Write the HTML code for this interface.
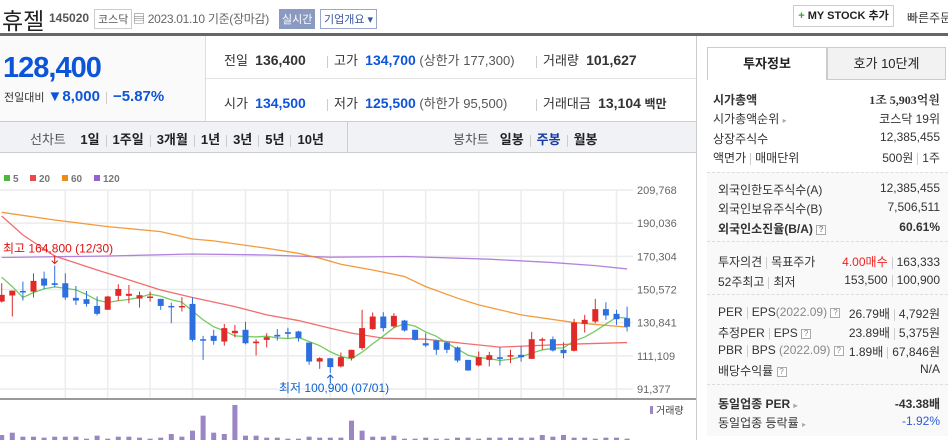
<!DOCTYPE html>
<html><head><meta charset="utf-8">
<style>
*{margin:0;padding:0;box-sizing:border-box}
body{width:948px;height:440px;overflow:hidden;background:#fff;font-family:"Liberation Sans","Noto Sans CJK KR",sans-serif;color:#333;position:relative}
.abs{position:absolute;white-space:nowrap}
.b{font-weight:bold}
.blue{color:#0d55d8}
.sep{display:inline-block;width:1px;height:12px;background:#ccc;vertical-align:middle;margin:0 6px}
.rp{font-size:12px;color:#333}
.rp .r{position:absolute;right:8px;white-space:nowrap}
.q{display:inline-block;width:10px;height:10px;border:1px solid #aaa;font-size:8px;line-height:8px;text-align:center;color:#888;vertical-align:middle;background:#fff}
</style></head><body>
<div class="abs" style="left:2px;top:2px;font-size:23px;color:#222">휴젤</div>
<div class="abs b" style="left:49px;top:11px;font-size:12px;color:#555">145020</div>
<div class="abs" style="left:94px;top:9px;font-size:11px;border:1px solid #ccc;padding:1px 3px;color:#555">코스닥</div>
<div class="abs" style="left:133px;top:10px;font-size:12px;color:#666;letter-spacing:-0.3px">▤ 2023.01.10 기준(장마감)</div>
<div class="abs" style="left:279px;top:9px;font-size:11px;background:#8a9ac0;color:#fff;padding:2px 3px">실시간</div>
<div class="abs" style="left:320px;top:9px;font-size:11px;border:1px solid #99a6c8;color:#3b55a0;padding:1px 3px">기업개요 ▾</div>
<div class="abs b" style="left:793px;top:5px;width:101px;height:22px;border:1px solid #ccc;font-size:11px;line-height:20px;text-align:center;color:#222"><span style="color:#3a3">+</span> MY STOCK 추가</div>
<div class="abs" style="left:907px;top:9px;font-size:12px;color:#333">빠른주문</div>
<div class="abs" style="left:0;top:33px;width:948px;height:3px;background:#666"></div>

<div class="abs" style="left:0;top:36px;width:206px;height:85px;background:#fafafa;border-right:1px solid #ddd"></div>
<div class="abs b" style="left:3px;top:52px;font-size:29px;color:#0d55d8;letter-spacing:-1px">128,400</div>
<div class="abs" style="left:4px;top:88px;font-size:11px;color:#333">전일대비 <span class="blue b" style="font-size:15px">▼8,000</span><span class="sep"></span><span class="blue b" style="font-size:15px">−5.87%</span></div>

<div class="abs" style="left:206px;top:78px;width:490px;height:1px;background:#e5e5e5"></div>
<div class="abs" style="left:224px;top:50px;font-size:13px">전일&nbsp;&nbsp;<b style="font-size:14px">136,400</b></div>
<div class="abs" style="left:327px;top:50px;font-size:13px"><span class="sep" style="margin-left:0"></span>고가&nbsp;&nbsp;<b class="blue" style="font-size:14px">134,700</b> <span style="color:#555">(상한가 177,300)</span></div>
<div class="abs" style="left:536px;top:50px;font-size:13px"><span class="sep" style="margin-left:0"></span>거래량&nbsp;&nbsp;<b style="font-size:14px">101,627</b></div>
<div class="abs" style="left:224px;top:93px;font-size:13px">시가&nbsp;&nbsp;<b class="blue" style="font-size:14px">134,500</b></div>
<div class="abs" style="left:327px;top:93px;font-size:13px"><span class="sep" style="margin-left:0"></span>저가&nbsp;&nbsp;<b class="blue" style="font-size:14px">125,500</b> <span style="color:#555">(하한가 95,500)</span></div>
<div class="abs" style="left:536px;top:93px;font-size:13px"><span class="sep" style="margin-left:0"></span>거래대금&nbsp;&nbsp;<b style="font-size:14px">13,104</b> <b style="font-size:12px">백만</b></div>

<div class="abs" style="left:0;top:121px;width:696px;height:32px;background:#f1f2f6;border-top:1px solid #ccc;border-bottom:1px solid #ccc"></div>
<div class="abs" style="left:347px;top:122px;width:1px;height:30px;background:#ccc"></div>
<div class="abs" style="left:30px;top:129px;font-size:13px;color:#222"><span style="color:#555">선차트</span>&nbsp;&nbsp;&nbsp; <b>1일</b><span class="sep"></span><b>1주일</b><span class="sep"></span><b>3개월</b><span class="sep"></span><b>1년</b><span class="sep"></span><b>3년</b><span class="sep"></span><b>5년</b><span class="sep"></span><b>10년</b></div>
<div class="abs" style="left:453px;top:129px;font-size:13px;color:#222"><span style="color:#555">봉차트</span>&nbsp;&nbsp; <b>일봉</b><span class="sep"></span><b style="color:#1a3ea0">주봉</b><span class="sep"></span><b>월봉</b></div>
<div class="abs" style="left:696px;top:36px;width:1px;height:404px;background:#ccc"></div>

<svg class="abs" id="chart" style="left:0;top:0" width="696" height="440"></svg>

<!-- right panel -->
<div class="abs" style="left:707px;top:47px;width:120px;height:33px;border:1px solid #ccc;border-bottom:none;background:#fff;font-size:13px;font-weight:bold;text-align:center;line-height:31px;color:#222">투자정보</div>
<div class="abs" style="left:827px;top:47px;width:119px;height:33px;border:1px solid #ccc;background:#f2f2f2;font-size:13px;text-align:center;line-height:31px;color:#222">호가 10단계</div>
<div class="abs" style="left:707px;top:172px;width:241px;height:264px;background:#f9f9f9"></div>
<div class="abs rp" style="left:707px;top:80px;width:241px;height:360px">
<div class="abs b" style="left:6px;top:11px;color:#333">시가총액</div><div class="r b" style="top:11px;font-family:'Liberation Serif','Noto Serif CJK SC',serif">1조 5,903억원</div>
<div class="abs" style="left:6px;top:30px">시가총액순위 <span style="color:#aaa;font-size:8px">▸</span></div><div class="r" style="top:30px">코스닥 19위</div>
<div class="abs" style="left:6px;top:50px">상장주식수</div><div class="r" style="top:50px">12,385,455</div>
<div class="abs" style="left:6px;top:69px">액면가<span class="sep" style="margin:0 4px"></span>매매단위</div><div class="r" style="top:69px">500원<span class="sep" style="margin:0 4px"></span>1주</div>
<div class="abs" style="left:0;top:92px;width:241px;border-top:1px dashed #ddd"></div>
<div class="abs" style="left:11px;top:101px">외국인한도주식수(A)</div><div class="r" style="top:101px">12,385,455</div>
<div class="abs" style="left:11px;top:120px">외국인보유주식수(B)</div><div class="r" style="top:120px">7,506,511</div>
<div class="abs b" style="left:11px;top:140px">외국인소진율(B/A) <span class="q">?</span></div><div class="r b" style="top:140px">60.61%</div>
<div class="abs" style="left:0;top:161px;width:241px;border-top:1px dashed #ddd"></div>
<div class="abs" style="left:11px;top:173px">투자의견<span class="sep" style="margin:0 4px"></span>목표주가</div><div class="r" style="top:173px"><span style="color:#e22">4.00매수</span><span class="sep" style="margin:0 4px"></span>163,333</div>
<div class="abs" style="left:11px;top:193px">52주최고<span class="sep" style="margin:0 4px"></span>최저</div><div class="r" style="top:193px">153,500<span class="sep" style="margin:0 4px"></span>100,900</div>
<div class="abs" style="left:0;top:214px;width:241px;border-top:1px dashed #ddd"></div>
<div class="abs" style="left:11px;top:225px">PER<span class="sep" style="margin:0 4px"></span>EPS<span style="color:#888">(2022.09)</span> <span class="q">?</span></div><div class="r" style="top:225px">26.79배<span class="sep" style="margin:0 4px"></span>4,792원</div>
<div class="abs" style="left:11px;top:244px">추정PER<span class="sep" style="margin:0 4px"></span>EPS <span class="q">?</span></div><div class="r" style="top:244px">23.89배<span class="sep" style="margin:0 4px"></span>5,375원</div>
<div class="abs" style="left:11px;top:263px">PBR<span class="sep" style="margin:0 4px"></span>BPS <span style="color:#888">(2022.09)</span> <span class="q">?</span></div><div class="r" style="top:263px">1.89배<span class="sep" style="margin:0 4px"></span>67,846원</div>
<div class="abs" style="left:11px;top:282px">배당수익률 <span class="q">?</span></div><div class="r" style="top:282px">N/A</div>
<div class="abs" style="left:0;top:304px;width:241px;border-top:1px dashed #ddd"></div>
<div class="abs b" style="left:11px;top:315px">동일업종 PER <span style="color:#aaa;font-size:8px">▸</span></div><div class="r b" style="top:315px">-43.38배</div>
<div class="abs" style="left:11px;top:334px">동일업종 등락률 <span style="color:#aaa;font-size:8px">▸</span></div><div class="r" style="top:334px;color:#2a5ad6">-1.92%</div>
</div>

<script>
const opens=[143400,147000,149700,149300,157100,154300,154300,145600,144800,140800,138500,146800,146800,145200,146000,145000,140800,140000,142000,121000,123000,119600,124600,126600,118600,120600,123600,125200,125600,119000,107700,109700,104800,109700,115700,127000,134500,128600,132100,126600,118600,120200,119000,116100,108700,105400,108700,110300,110700,111700,109300,120200,121000,114700,114100,130100,131500,138900,136100,133500];
const highs=[154300,149900,155300,160200,161200,164800,160200,152700,149700,146400,146800,153700,153300,149300,149300,145000,142800,146000,145800,123000,126600,130100,129500,131300,121000,124600,127000,127800,126000,119000,110300,109700,113100,114700,138500,136900,137100,136500,132500,126600,124600,120600,119600,116700,108700,113700,113500,116300,114700,117100,125400,122000,122600,119200,133100,135500,145000,143000,138500,140400];
const lows=[142800,134500,144000,145800,150900,151900,144400,141400,140400,135100,138500,143800,142400,139800,143400,138500,130500,137500,119600,108700,117700,117100,122200,117900,111300,116100,120200,121600,119600,105800,103400,100900,104200,108300,114700,126600,125600,127600,125600,120200,116300,111700,112700,107200,102200,104800,104800,105400,106800,107700,109300,114700,113700,109700,113700,125000,130500,132500,129500,125600];
const closes=[147400,149900,148800,155700,152900,153300,145800,144000,142000,136100,146400,150900,148000,147200,146400,140800,140000,140800,120600,120600,120000,127600,126000,118600,119600,122200,122600,124200,121600,107700,109700,104400,110300,114700,127600,134500,127600,134900,126200,120600,117300,114700,114700,108300,102400,110300,111500,109300,111500,110300,121000,121000,114300,112700,130900,132500,138900,135100,132900,128400];
const volumes=[150,220,100,100,70,100,100,100,40,130,40,100,100,70,40,70,180,100,280,730,220,180,1050,130,130,70,70,40,40,100,70,70,70,580,280,100,100,130,40,40,70,40,40,70,70,40,70,70,70,70,70,150,100,150,70,70,40,70,70,40];
const ma5Head=[157900,152300,145800,148800];
const ma20Idx=[0,2,5,9,12,15,18,22,25,28,31,33,36,40,44,47,50,54,59];
const ma20Val=[194300,183000,170500,162200,156300,150300,145800,140400,135500,132100,127500,124600,121600,121000,118200,116300,117100,118100,119000];
const ma60Idx=[0,5,10,15,18,20,25,28,30,32,35,38,40,43,45,49,54,59];
const ma60Val=[196500,191900,188000,185000,180600,179500,175100,172100,169200,165600,162200,158300,152300,145400,141400,135500,130900,128200];
const ma120Idx=[0,10,18,25,31,38,43,46,52,56,59];
const ma120Val=[169600,170500,171700,171100,169800,170200,169200,168600,166600,164800,162800];
const yTicks=[209768,190036,170304,150572,130841,111109,91377];
const gridIdx=[6,10,14,18,23,27,31,36,40,45,49,53,58];

const svg=document.getElementById('chart');
const NS='http://www.w3.org/2000/svg';
const yMax=209768,yMin=91377,yTop=190,yBot=389;
function y(p){return yTop+(yMax-p)*(yBot-yTop)/(yMax-yMin);}
function x(i){return 1.7+i*10.6;}
function vy(v){return 440-v*35/1050;}
function mk(tag,attrs,name){const e=document.createElementNS(NS,tag);for(const k in attrs)e.setAttribute(k,attrs[k]);


svg.appendChild(e);return e;}

yTicks.forEach((t,k)=>{
  const g=mk('line',{x1:0,x2:633,y1:y(t),y2:y(t),stroke:'#ececec','stroke-width':1.5},'y-gridline');
  const tx=mk('text',{x:637,y:y(t)+4,'font-size':11,fill:'#666','font-family':'Liberation Sans, sans-serif'},'y-tick-label');
  tx.textContent=t.toLocaleString('en-US');
});
gridIdx.forEach(i=>{mk('line',{x1:x(i),x2:x(i),y1:yTop,y2:399,stroke:'#ececec','stroke-width':1.5},'x-gridline');});
mk('line',{x1:0,x2:696,y1:399,y2:399,stroke:'#999','stroke-width':2},'x-axis-line');

[['5','#4db83a'],['20','#ea4a4a'],['60','#f08a1a'],['120','#9a5fd0']].forEach((l,k)=>{
  const lx=[4,30,62,94][k];
  mk('rect',{x:lx,y:175,width:6,height:6,fill:l[1]},'legend-swatch');
  const t=mk('text',{x:lx+9,y:182,'font-size':10,'font-weight':'bold',fill:'#777','font-family':'Liberation Sans, sans-serif'},'legend-entry');
  t.textContent=l[0];
});

function maLine(idx,val,color,name){
  const pts=idx.map((i,k)=>x(i)+','+y(val[k])).join(' ');
  mk('polyline',{points:pts,fill:'none',stroke:color,'stroke-width':1.3,'stroke-opacity':0.85},name);
}
maLine(ma120Idx,ma120Val,'#a46fd8','ma120-line');
maLine(ma60Idx,ma60Val,'#f08a1a','ma60-line');
maLine(ma20Idx,ma20Val,'#ef5555','ma20-line');
const ma5=closes.map((c,i)=>i<4?ma5Head[i]:(closes[i]+closes[i-1]+closes[i-2]+closes[i-3]+closes[i-4])/5);
maLine(ma5.map((v,i)=>i),ma5,'#5cc242','ma5-line');

opens.forEach((o,i)=>{
  const c=closes[i],up=c>=o,col=up?'#e02a2a':'#2e6fe0';
  mk('line',{x1:x(i),x2:x(i),y1:y(highs[i]),y2:y(lows[i]),stroke:col,'stroke-width':1},'candle-wick');
  const top=y(Math.max(o,c)),h=Math.max(1.5,Math.abs(y(o)-y(c)));
  mk('rect',{x:x(i)-3,y:top,width:6,height:h,fill:col},'candle-body');
  mk('rect',{x:x(i)-2.5,y:vy(volumes[i]),width:5,height:440-vy(volumes[i]),fill:'#9b85c4'},'volume-bar');
});

const hi=highs.indexOf(Math.max(...highs)),lo=lows.indexOf(Math.min(...lows));
let t=mk('text',{x:3,y:y(highs[hi])-13,'font-size':12,fill:'#e01010','font-family':'Liberation Sans, Noto Sans CJK KR, sans-serif'},'high-annotation');
t.textContent='최고 164,800 (12/30)';
mk('path',{d:`M${x(hi)},${y(highs[hi])-10}V${y(highs[hi])-2}M${x(hi)-3},${y(highs[hi])-5}L${x(hi)},${y(highs[hi])-2}L${x(hi)+3},${y(highs[hi])-5}`,stroke:'#e01010',fill:'none'},'high-arrow');
t=mk('text',{x:279,y:y(lows[lo])+19,'font-size':12,fill:'#1060d0','font-family':'Liberation Sans, Noto Sans CJK KR, sans-serif'},'low-annotation');
t.textContent='최저 100,900 (07/01)';
mk('path',{d:`M${x(lo)},${y(lows[lo])+10}V${y(lows[lo])+2}M${x(lo)-3},${y(lows[lo])+5}L${x(lo)},${y(lows[lo])+2}L${x(lo)+3},${y(lows[lo])+5}`,stroke:'#1060d0',fill:'none'},'low-arrow');
mk('rect',{x:650,y:406,width:3,height:8,fill:'#9b85c4'},'volume-legend-swatch');
t=mk('text',{x:656,y:414,'font-size':10,fill:'#444','font-family':'Liberation Sans, Noto Sans CJK KR, sans-serif'},'volume-legend');
t.textContent='거래량';
</script>
</body></html>
